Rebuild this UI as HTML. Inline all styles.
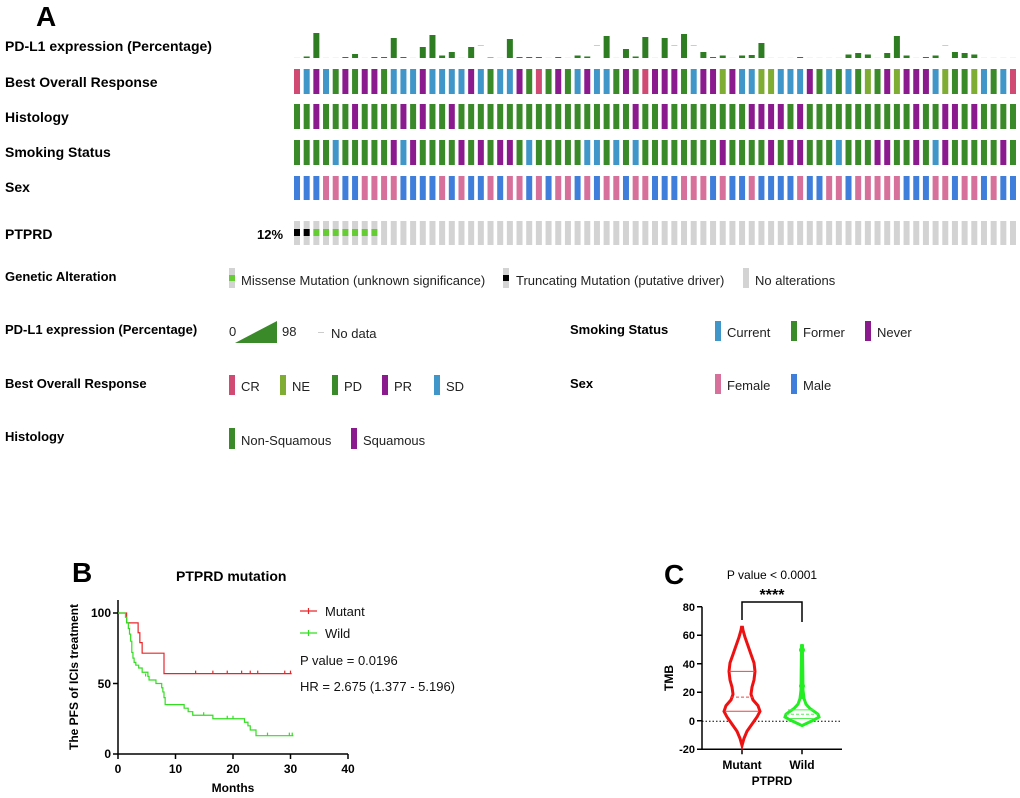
<!DOCTYPE html>
<html><head><meta charset="utf-8"><style>
body{margin:0;background:#fff;}
svg{display:block;font-family:"Liberation Sans",Arial,sans-serif;}
.b{font-weight:bold;}
</style></head><body>
<svg id="s" width="1020" height="798" viewBox="0 0 1020 798" xmlns="http://www.w3.org/2000/svg">
<text x="36" y="26" font-size="28" class="b">A</text>
<g font-size="14" class="b" font-weight="bold">
<text x="5" y="51">PD-L1 expression (Percentage)</text>
<text x="5" y="87">Best Overall Response</text>
<text x="5" y="122">Histology</text>
<text x="5" y="157">Smoking Status</text>
<text x="5" y="192">Sex</text>
<text x="5" y="239">PTPRD</text>
<text x="257" y="239" font-size="13">12%</text>
</g>
<g id="onco"></g>
<g font-size="13" font-weight="bold">
<text x="5" y="281">Genetic Alteration</text>
<text x="5" y="334">PD-L1 expression (Percentage)</text>
<text x="5" y="388">Best Overall Response</text>
<text x="5" y="441">Histology</text>
<text x="570" y="334">Smoking Status</text>
<text x="570" y="388">Sex</text>
</g>
<g font-size="13" fill="#222">
<rect x="229" y="268" width="6" height="20" fill="#d3d3d3"/><rect x="229" y="275" width="6" height="6" fill="#66cc33"/>
<text x="241" y="285">Missense Mutation (unknown significance)</text>
<rect x="503" y="268" width="6" height="20" fill="#d3d3d3"/><rect x="503" y="275" width="6" height="6" fill="#000"/>
<text x="516" y="285">Truncating Mutation (putative driver)</text>
<rect x="743" y="268" width="6" height="20" fill="#d3d3d3"/>
<text x="755" y="285">No alterations</text>
<text x="229" y="336">0</text>
<polygon points="235,343 277,321 277,343" fill="#3a8a2a"/>
<text x="282" y="336">98</text>
<rect x="318" y="332" width="6" height="1" fill="#ccc"/>
<text x="331" y="338">No data</text>
<rect x="229" y="375" width="6" height="20" fill="#d04a73"/><text x="241" y="391">CR</text>
<rect x="280" y="375" width="6" height="20" fill="#7fac33"/><text x="292" y="391">NE</text>
<rect x="332" y="375" width="6" height="20" fill="#3a8a2a"/><text x="344" y="391">PD</text>
<rect x="382" y="375" width="6" height="20" fill="#8b1a8f"/><text x="394" y="391">PR</text>
<rect x="434" y="375" width="6" height="20" fill="#4096c8"/><text x="446" y="391">SD</text>
<rect x="229" y="428" width="6" height="21" fill="#3a8a2a"/><text x="241" y="445">Non-Squamous</text>
<rect x="351" y="428" width="6" height="21" fill="#8b1a8f"/><text x="363" y="445">Squamous</text>
<rect x="715" y="321" width="6" height="20" fill="#4096c8"/><text x="727" y="337">Current</text>
<rect x="791" y="321" width="6" height="20" fill="#3a8a2a"/><text x="803" y="337">Former</text>
<rect x="865" y="321" width="6" height="20" fill="#8b1a8f"/><text x="877" y="337">Never</text>
<rect x="715" y="374" width="6" height="20" fill="#d7709a"/><text x="727" y="390">Female</text>
<rect x="791" y="374" width="6" height="20" fill="#3f7fdb"/><text x="803" y="390">Male</text>
</g>

<!-- Panel B -->
<text x="72" y="582" font-size="28" class="b" font-weight="bold">B</text>
<text x="176" y="581" font-size="14" font-weight="bold">PTPRD mutation</text>
<g stroke="#000" stroke-width="1.5" fill="none">
<path d="M118,600 V754 H348"/>
<path d="M113,613 H118 M113,683.5 H118 M113,754 H118"/>
<path d="M118,754 v5 M175.5,754 v5 M233,754 v5 M290.5,754 v5 M348,754 v5"/>
</g>
<g font-size="12" font-weight="bold" text-anchor="end">
<text x="111" y="617">100</text><text x="111" y="688">50</text><text x="111" y="758">0</text>
</g>
<g font-size="12" font-weight="bold" text-anchor="middle">
<text x="118" y="773">0</text><text x="175.5" y="773">10</text><text x="233" y="773">20</text><text x="290.5" y="773">30</text><text x="348" y="773">40</text>
<text x="233" y="792">Months</text>
</g>
<text transform="translate(78,677) rotate(-90)" font-size="12" font-weight="bold" text-anchor="middle">The PFS of ICIs treatment</text>
<path id="mut" fill="none" stroke="#e8262a" stroke-width="1.2"/>
<path id="wild" fill="none" stroke="#33dd22" stroke-width="1.2"/>
<path d="M300,611 H317 M308.5,608 v6" stroke="#e8262a" stroke-width="1.2"/>
<path d="M300,633 H317 M308.5,630 v6" stroke="#33dd22" stroke-width="1.2"/>
<g font-size="13" fill="#111">
<text x="325" y="616">Mutant</text>
<text x="325" y="638">Wild</text>
<text x="300" y="665">P value = 0.0196</text>
<text x="300" y="691">HR = 2.675 (1.377 - 5.196)</text>
</g>

<!-- Panel C -->
<text x="664" y="584" font-size="28" font-weight="bold">C</text>
<text x="772" y="579" font-size="12" text-anchor="middle">P value &lt; 0.0001</text>
<text x="772" y="600" font-size="16" font-weight="bold" text-anchor="middle">****</text>
<path d="M742,620 V602 H802 V622" stroke="#000" stroke-width="1.5" fill="none"/>
<g stroke="#000" stroke-width="1.5" fill="none">
<path d="M702,606.7 V749.3 H842"/>
<path d="M697,606.7 h5 M697,635.2 h5 M697,663.7 h5 M697,692.2 h5 M697,720.7 h5 M697,749.3 h5"/>
<path d="M742,749.3 v5 M802,749.3 v5"/>
</g>
<path d="M702,721.3 H842" stroke="#000" stroke-width="1" stroke-dasharray="1.5,2"/>
<g font-size="11" font-weight="bold" text-anchor="end">
<text x="695" y="611">80</text><text x="695" y="639">60</text><text x="695" y="668">40</text><text x="695" y="696">20</text><text x="695" y="725">0</text><text x="695" y="753">-20</text>
</g>
<text transform="translate(673,678) rotate(-90)" font-size="12" font-weight="bold" text-anchor="middle">TMB</text>
<g font-size="12" font-weight="bold" text-anchor="middle">
<text x="742" y="769">Mutant</text><text x="802" y="769">Wild</text>
<text x="772" y="785">PTPRD</text>
</g>
<path id="vm" fill="#fff" stroke="#ee1111" stroke-width="3"/>
<path id="vw" fill="#fff" stroke="#22ee22" stroke-width="3"/>
<g stroke="#ee4444" stroke-width="1">
<path d="M729,671.4 H755 M726,711.3 H758"/><path d="M731,697.1 H753" stroke-dasharray="3,2"/>
</g>
<g stroke="#55ee55" stroke-width="1">
<path d="M790,718.5 H814 M788,709.9 H814"/><path d="M786,714.2 H818" stroke-dasharray="3,2"/>
</g>
<g fill="#22ee22"><circle cx="802" cy="650" r="3"/><circle cx="802" cy="686" r="3"/><circle cx="802" cy="696" r="3"/><circle cx="802" cy="646" r="2"/></g>
</svg>
<script>
var NS="http://www.w3.org/2000/svg",g=document.getElementById("onco");
function R(x,y,w,h,c){var r=document.createElementNS(NS,"rect");r.setAttribute("x",x);r.setAttribute("y",y);r.setAttribute("width",w);r.setAttribute("height",h);r.setAttribute("fill",c);g.appendChild(r);}
var C={R:"#d04a73",S:"#4096c8",G:"#3a8a2a",P:"#8b1a8f",N:"#7fac33",B:"#3f7fdb",F:"#d7709a"};
var bor="RSPSGPGPPGSSSPSSSSPSGSSPGRGPGSPSSGPGRP"+"PPGSPPNPSSNNSSSPGSGSGNGPNPPPSNGGNSGSR";
var his="GGPGGGPGGGGPGPGGPGGGGGGGGGGGGGGGGGGPGGG".slice(0,38)+"PGGGGGGGGPPPPGPGGGGGGGGGGGPGGPPGPGGGG";
var smk="GGGGSGGGGGPSPGGGGPGPGPPGSGGGGGSSGSGSGG"+"GGGGGGPGGGGPGPPGGGSGGGPPGGPGSPGGGGGPG";
var sex="BBBFFBBFFFFBBBBFBFBBFBFFBFBFFBFBFFBFFB"+"BBFFFBFBBFBBBBFBBFFBFFFFFBBBFFBFFBFBB";
var pd=[0,1.5,25,0,0,1,4,0,1,1,20,1,0,11,23,2.5,6,0,11,-1,0.5,0,19,1,1,1,0,1,0,2.5,1.5,-1,22,0,9,1.5,21,0, 20,-1,24,-1,6,1,2.5,0,2.5,3,15,0,0,0,1,0,0,0,0,3.5,5,3.5,0,5,22,2.5,0,1,2.5,-1,6,5,3.5,0,0,0,0];
var n=75,x0=294,dx=(1010-294)/74;
for(var i=0;i<n;i++){var x=x0+i*dx;
 var v=pd[i]||0; if(v<0)R(x,45,6,1,"#ccc"); else if(v>0)R(x,58-v,6,v,"#2e7d22"); else R(x,57.5,6,0.5,"#e8e8e8");
 R(x,69,6,25,C[bor[i]]||"#4096c8");R(x,104,6,25,C[his[i]]||"#3a8a2a");R(x,140,6,25,C[smk[i]]||"#3a8a2a");R(x,176,6,24,C[sex[i]]||"#3f7fdb");
 R(x,221,6,24,"#d3d3d3");
 if(i<2)R(x,229,6,7,"#000");else if(i<9)R(x,229,6,7,"#66cc33");}
function X(m){return 118+m*5.75}function Y(v){return 754-v*1.41}
function km(st,end){var d="M"+X(0)+","+Y(st[0][1]);for(var i=1;i<st.length;i++){d+=" H"+X(st[i][0])+" V"+Y(st[i][1]);}d+=" H"+X(end);return d;}
var mut=[[0,100],[1.5,93],[3.5,86],[3.8,79],[4.2,71.5],[8,57]];
var wild=[[0,100],[1.3,97],[1.5,93],[1.8,89],[2,85],[2.2,80],[2.4,72],[2.6,68],[2.8,65],[3.1,63],[3.6,61],[4.2,58],[5.2,55],[5.4,52.5],[6.6,50],[7.6,47],[7.8,44],[8,40],[8.2,35],[11.5,32.5],[12.2,30],[13,27.5],[16.5,25],[22,22.5],[22.6,20],[23,17],[24,13]];
var dm=km(mut,30.2);[13.5,16.5,19,21.5,23,24.3,29,30].forEach(function(t){dm+=" M"+X(t)+","+(Y(57)-3)+" v3"});
document.getElementById("mut").setAttribute("d",dm);
var dw=km(wild,30.5);[[4.8,55],[14.9,27.5],[19,25],[20,25],[26,13],[29.8,13],[30.3,13]].forEach(function(t){dw+=" M"+X(t[0])+","+(Y(t[1])-3)+" v3"});
document.getElementById("wild").setAttribute("d",dw);
function vio(cx,pts){var yv=function(v){return 721.3-v*1.425};var L="",Rr="";
 pts.forEach(function(p,i){L+=(i?" L":"M")+(cx-p[1])+","+yv(p[0]);});
 for(var i=pts.length-1;i>=0;i--){Rr+=" L"+(cx+pts[i][1])+","+yv(pts[i][0]);}return L+Rr+" Z";}
document.getElementById("vm").setAttribute("d",vio(742,[[-17,0],[-12,2],[-7,5],[-2,10],[3,15],[7,18],[11,16],[15,11],[19,9],[24,10],[29,12],[35,13],[41,12],[47,9],[53,6],[59,3],[64,1],[66,0.5]]));
document.getElementById("vw").setAttribute("d",vio(802,[[-3,0],[-1,6],[1,12],[3,17],[5,16],[7,12],[9,8],[12,4],[16,2],[22,1],[35,0.8],[53,0.4]]));
</script>
</body></html>
